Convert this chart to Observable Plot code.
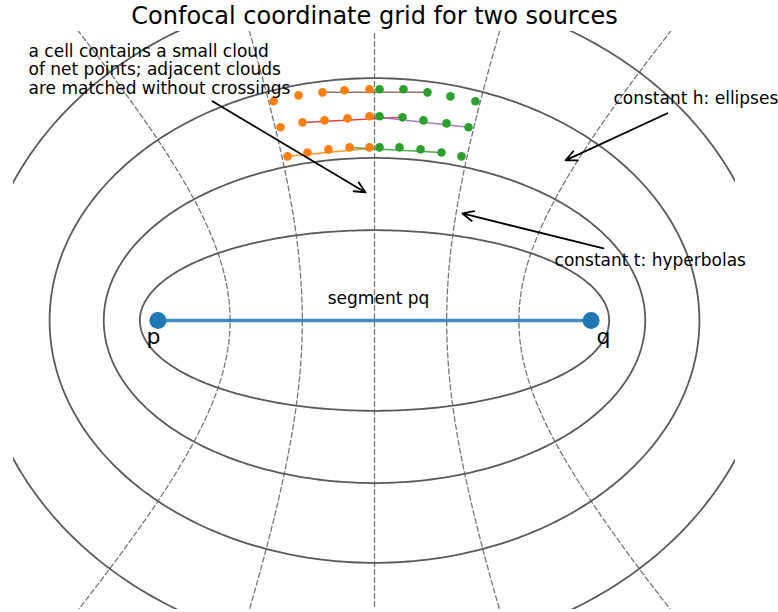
<!DOCTYPE html>
<html><head><meta charset="utf-8">
<script src="https://cdn.jsdelivr.net/npm/d3@7"></script>
<script src="https://cdn.jsdelivr.net/npm/@observablehq/plot@0.6"></script>
<style>body{margin:0;background:#fff}</style>
</head><body><div id="chart"></div>
<script>
// Foci p=(-c,0), q=(c,0)
const focusC = 1.5;
const fociX = [-1.5, 1.5];
const fociY = [0, 0];
const fociLabel = ["p", "q"];
const fociLabelX = [-1.53, 1.586];
const fociLabelY = [-0.166, -0.166];
// constant h (sum of distances): ellipses
const ellipseH = [3.25, 3.75, 4.5, 5.5];
// constant t (difference of distances): hyperbolas
const hyperbolaT = [-2, -1, 0, 1, 2];

// point clouds, rows from top (0) to bottom (2)
const orangeX = [
  [-0.699, -0.526, -0.360, -0.208, -0.035],
  [-0.651, -0.499, -0.346, -0.187, -0.035],
  [-0.602, -0.464, -0.319, -0.173, -0.035]];
const orangeY = [
  [1.517, 1.558, 1.579, 1.593, 1.600],
  [1.337, 1.371, 1.385, 1.399, 1.413],
  [1.136, 1.163, 1.184, 1.198, 1.198]];
const greenX = [
  [0.035, 0.201, 0.367, 0.526, 0.699],
  [0.035, 0.194, 0.339, 0.499, 0.651],
  [0.035, 0.173, 0.319, 0.464, 0.602]];
const greenY = [
  [1.600, 1.600, 1.579, 1.551, 1.517],
  [1.413, 1.406, 1.385, 1.364, 1.337],
  [1.198, 1.198, 1.184, 1.163, 1.136]];
// matched pairs (row, orange index, green index, colour)
const matchRow = [2, 2, 1, 1, 0];
const matchOrange = [0, 3, 1, 4, 2];
const matchGreen = [0, 3, 1, 4, 2];
const matchColor = ["#ff7f0e", "#2ca02c", "#d62728", "#9467bd", "#8c564b"];

// annotations
const titleText = "Confocal coordinate grid for two sources";
const noteText = ["a cell contains a small cloud\nof net points; adjacent clouds\nare matched without crossings", "constant h: ellipses", "constant t: hyperbolas"];
const noteX = [-2.396, 1.655, 1.247];
const noteY = [1.918, 1.496, 0.374];
const noteAnchor = ["top", "bottom", "bottom"];
const arrowX1 = [-1.122, 2.029, 1.586];
const arrowY1 = [1.517, 1.434, 0.499];
const arrowX2 = [-0.062, 1.323, 0.609];
const arrowY2 = [0.886, 1.108, 0.741];
const segLabel = "segment pq";
const segLabelX = 0.028, segLabelY = 0.111;

// build geometry
const ellipses = [];
ellipseH.forEach((h, k) => {
  const a = h / 2, b = Math.sqrt(a * a - focusC * focusC);
  d3.range(0, 361, 1).forEach(deg => {
    const th = deg * Math.PI / 180;
    ellipses.push({k, x: a * Math.cos(th), y: b * Math.sin(th)});
  });
});
const hyperbolas = [];
hyperbolaT.forEach((t, k) => {
  const A = Math.abs(t) / 2, s = t === 0 ? 0 : Math.sign(t);
  const B = Math.sqrt(focusC * focusC - A * A);
  d3.range(-2.2, 2.2001, 0.02).forEach(u => {
    hyperbolas.push({k, x: s * A * Math.cosh(u), y: B * Math.sinh(u)});
  });
});
const dots = [];
orangeX.forEach((row, r) => row.forEach((x, i) => dots.push({x, y: orangeY[r][i], c: "#ff7f0e"})));
greenX.forEach((row, r) => row.forEach((x, i) => dots.push({x, y: greenY[r][i], c: "#2ca02c"})));
const matches = matchRow.map((r, i) => ({
  x1: orangeX[r][matchOrange[i]], y1: orangeY[r][matchOrange[i]],
  x2: greenX[r][matchGreen[i]], y2: greenY[r][matchGreen[i]], c: matchColor[i]}));
const notes = noteText.map((t, i) => ({t, x: noteX[i], y: noteY[i], a: noteAnchor[i]}));
const arrows = arrowX1.map((x, i) => ({x1: x, y1: arrowY1[i], x2: arrowX2[i], y2: arrowY2[i]}));
const foci = fociX.map((x, i) => ({x, y: fociY[i], label: fociLabel[i], lx: fociLabelX[i], ly: fociLabelY[i]}));
const segment = [{x1: fociX[0], y1: fociY[0], x2: fociX[1], y2: fociY[1]}];

const chart = Plot.plot({
  width: 778, height: 612,
  marginLeft: 13, marginRight: 43, marginTop: 31, marginBottom: 3,
  style: {fontFamily: "DejaVu Sans, sans-serif", background: "#fff", color: "#000"},
  x: {domain: [-2.5, 2.5], axis: null},
  y: {domain: [-2, 2], axis: null},
  marks: [
    Plot.line(hyperbolas, {x: "x", y: "y", z: "k", stroke: "#777", strokeWidth: 1.3, strokeDasharray: "5,3", clip: true}),
    Plot.line(ellipses, {x: "x", y: "y", z: "k", stroke: "#5a5a5a", strokeWidth: 1.8, clip: true}),
    Plot.link(segment, {x1: "x1", y1: "y1", x2: "x2", y2: "y2", stroke: "#1f77b4", strokeOpacity: 0.85, strokeWidth: 3.5}),
    Plot.dot(foci, {x: "x", y: "y", r: 8.5, fill: "#1f77b4"}),
    Plot.text(foci, {x: "lx", y: "ly", text: "label", fontSize: 22, lineAnchor: "bottom", fill: "#000"}),
    Plot.text([segLabel], {x: segLabelX, y: segLabelY, text: d => d, fontSize: 17, lineAnchor: "bottom", fill: "#000"}),
    Plot.link(matches, {x1: "x1", y1: "y1", x2: "x2", y2: "y2", stroke: "c", strokeWidth: 1.5, strokeOpacity: 0.85}),
    Plot.dot(dots, {x: "x", y: "y", r: 4.3, fill: "c"}),
    Plot.text(notes.filter(d => d.a === "bottom"), {x: "x", y: "y", text: "t", lineAnchor: "bottom", textAnchor: "start", fontSize: 17, fill: "#000"}),
    Plot.text(notes.filter(d => d.a === "top"), {x: "x", y: "y", text: "t", lineAnchor: "top", textAnchor: "start", fontSize: 17, lineHeight: 1.09, fill: "#000"}),
    Plot.arrow(arrows, {x1: "x1", y1: "y1", x2: "x2", y2: "y2", stroke: "#000", strokeWidth: 1.8, headLength: 10, headAngle: 50}),
    Plot.text([titleText], {frameAnchor: "top", text: d => d, lineAnchor: "bottom", dy: -8, fontSize: 24, fill: "#000"})
  ]
});
document.getElementById("chart").appendChild(chart);
</script>
</body></html>
